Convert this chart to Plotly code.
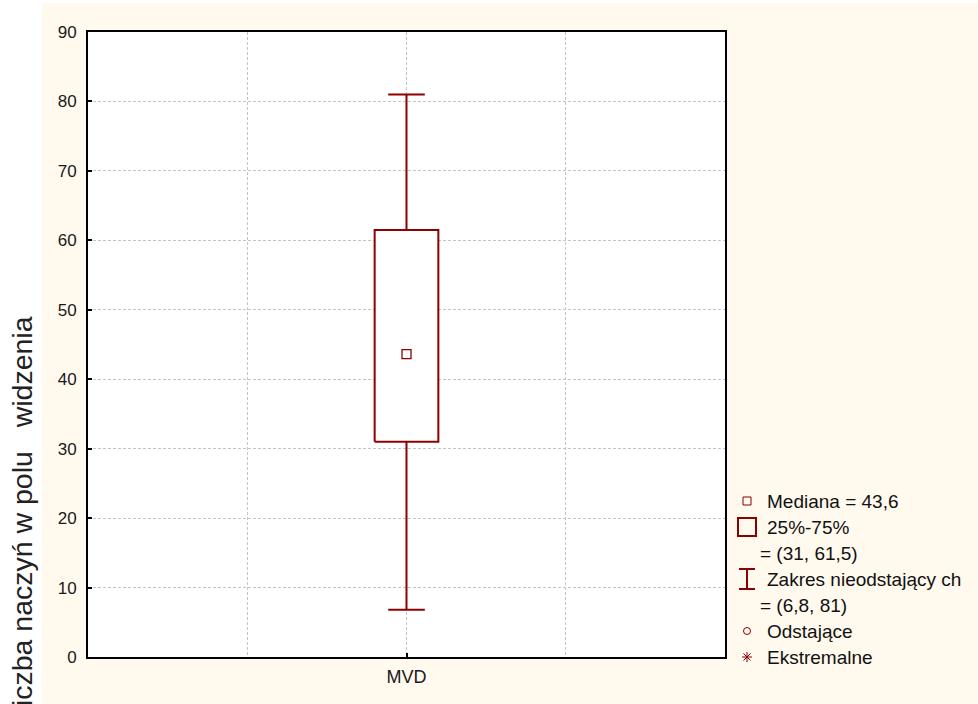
import plotly.graph_objects as go

W, H = 978, 704

# Box-plot summary for the single variable
categories = ["MVD"]
medians = [43.6]
q1_values = [31.0]
q3_values = [61.5]
lower_whisker = [6.8]
upper_whisker = [81.0]

y_tick_values = [0, 10, 20, 30, 40, 50, 60, 70, 80, 90]

RED = "#8B0000"
CREAM = "#FFF9EE"
GRID = "#C4C4C4"
BOX_HALF = 0.2
CAP_HALF = 0.115

# plot rectangle in pixels
L, R, T, B = 88, 725, 32, 657


def fmt(v):
    return f"{v:g}".replace(".", ",")


def px(x):
    return x / W


def py(y):
    return 1 - y / H


positions = [2 * (i + 1) for i in range(len(categories))]
n_slots = 2 * len(categories) + 2

fig = go.Figure()
for xc, med, a, b, lo, hi in zip(positions, medians, q1_values, q3_values,
                                 lower_whisker, upper_whisker):
    # whiskers
    fig.add_trace(go.Scatter(
        x=[xc, xc, None, xc, xc], y=[b, hi, None, a, lo], mode="lines",
        line=dict(color=RED, width=2), hoverinfo="skip", showlegend=False))
    # caps
    fig.add_trace(go.Scatter(
        x=[xc - CAP_HALF, xc + CAP_HALF, None, xc - CAP_HALF, xc + CAP_HALF],
        y=[hi, hi, None, lo, lo], mode="lines",
        line=dict(color=RED, width=2), hoverinfo="skip", showlegend=False))
    # interquartile box
    fig.add_trace(go.Scatter(
        x=[xc - BOX_HALF, xc + BOX_HALF, xc + BOX_HALF, xc - BOX_HALF, xc - BOX_HALF],
        y=[a, a, b, b, a], mode="lines", fill="toself", fillcolor="white",
        line=dict(color=RED, width=2), hoverinfo="skip", showlegend=False))
    # median marker
    fig.add_trace(go.Scatter(
        x=[xc], y=[med], mode="markers",
        marker=dict(symbol="square-open", size=9, color=RED, line=dict(width=1.3)),
        hoverinfo="skip", showlegend=False))

shapes = [
    # white strips on the left and top edges of the page
    dict(type="rect", xref="paper", yref="paper", x0=-0.1, x1=px(42), y0=-0.1, y1=1.1,
         fillcolor="white", line=dict(width=0), layer="below"),
    dict(type="rect", xref="paper", yref="paper", x0=-0.1, x1=1.1, y0=py(3), y1=1.1,
         fillcolor="white", line=dict(width=0), layer="below"),
]

# legend symbols
LX = 747
rows = [501, 527, 553, 579, 605, 631, 657]
shapes.append(dict(type="rect", xref="paper", yref="paper",
                   x0=px(LX - 4), x1=px(LX + 4), y0=py(rows[0] + 4), y1=py(rows[0] - 4),
                   line=dict(color=RED, width=1)))
shapes.append(dict(type="rect", xref="paper", yref="paper",
                   x0=px(LX - 9), x1=px(LX + 9), y0=py(rows[1] + 9), y1=py(rows[1] - 9),
                   line=dict(color=RED, width=2)))
cap_y = rows[3]
shapes.append(dict(type="path", xref="paper", yref="paper",
                   path=(f"M{px(LX-8)},{py(cap_y-10)} L{px(LX+8)},{py(cap_y-10)} "
                         f"M{px(LX)},{py(cap_y-10)} L{px(LX)},{py(cap_y+10)} "
                         f"M{px(LX-8)},{py(cap_y+10)} L{px(LX+8)},{py(cap_y+10)}"),
                   line=dict(color=RED, width=2)))
shapes.append(dict(type="circle", xref="paper", yref="paper",
                   x0=px(LX - 3.5), x1=px(LX + 3.5), y0=py(rows[5] + 3.5), y1=py(rows[5] - 3.5),
                   line=dict(color=RED, width=1)))
ay = rows[6]
r = 5
d = r * 0.7071
shapes.append(dict(type="path", xref="paper", yref="paper",
                   path=(f"M{px(LX)},{py(ay-r)} L{px(LX)},{py(ay+r)} "
                         f"M{px(LX-r)},{py(ay)} L{px(LX+r)},{py(ay)} "
                         f"M{px(LX-d)},{py(ay-d)} L{px(LX+d)},{py(ay+d)} "
                         f"M{px(LX-d)},{py(ay+d)} L{px(LX+d)},{py(ay-d)}"),
                   line=dict(color=RED, width=1)))

legend_lines = [
    (765, f"Mediana = {fmt(medians[0])}"),
    (765, "25%-75%"),
    (758, f"= ({fmt(q1_values[0])}, {fmt(q3_values[0])})"),
    (765, "Zakres nieodstający ch"),
    (758, f"= ({fmt(lower_whisker[0])}, {fmt(upper_whisker[0])})"),
    (765, "Odstające"),
    (765, "Ekstremalne"),
]
annotations = []
for (x, txt), yrow in zip(legend_lines, rows):
    annotations.append(dict(
        xref="paper", yref="paper", x=px(x), y=py(yrow), text=txt,
        xanchor="left", yanchor="middle", showarrow=False,
        font=dict(family="Liberation Sans, Arial, sans-serif", size=19, color="#111111")))

# vertical axis title (runs off the bottom edge of the page)
annotations.append(dict(
    xref="paper", yref="paper", x=px(22), y=py(314),
    text="Liczba naczyń w polu \u00a0\u00a0widzenia",
    textangle=-90, xanchor="center", yanchor="top", showarrow=False,
    font=dict(family="Liberation Sans, Arial, sans-serif", size=28.5, color="#222222")))

fig.update_layout(
    width=W, height=H,
    margin=dict(l=0, r=0, t=0, b=0, autoexpand=False),
    paper_bgcolor=CREAM,
    plot_bgcolor="white",
    shapes=shapes,
    annotations=annotations,
    showlegend=False,
    font=dict(family="Liberation Sans, Arial, sans-serif", color="#1a1a1a"),
    xaxis=dict(
        domain=[px(L), px(R)], range=[0, n_slots], automargin=False,
        tickvals=positions, ticktext=categories,
        ticks="inside", ticklen=4, tickwidth=2, tickcolor="black",
        tickfont=dict(size=18, color="#1a1a1a"), ticklabelstandoff=2,
        showline=True, linecolor="black", linewidth=2, mirror=True,
        showgrid=True, gridcolor=GRID, griddash="3px,2px", gridwidth=1,
        minor=dict(tickvals=[p + s for p in positions for s in (-1, 1)],
                   showgrid=True, gridcolor=GRID, griddash="3px,2px", gridwidth=1,
                   ticks=""),
        zeroline=False, fixedrange=True,
    ),
    yaxis=dict(
        domain=[py(B), py(T)], range=[0, 90], automargin=False,
        tickvals=y_tick_values,
        ticks="inside", ticklen=4, tickwidth=2, tickcolor="black",
        tickfont=dict(size=17, color="#1a1a1a"), ticklabelstandoff=6,
        showline=True, linecolor="black", linewidth=2, mirror=True,
        showgrid=True, gridcolor=GRID, griddash="3px,2px", gridwidth=1,
        zeroline=False, fixedrange=True,
    ),
)

fig.write_html("out.html")
